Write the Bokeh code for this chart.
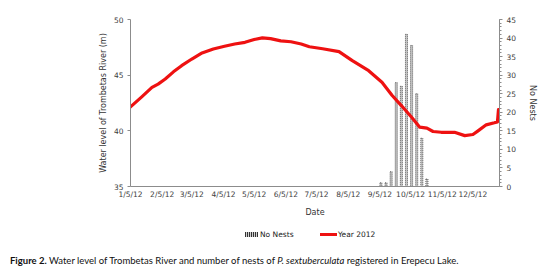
import pandas as pd
from bokeh.plotting import figure
from bokeh.layouts import column
from bokeh.models import (Range1d, LinearAxis, FixedTicker, SingleIntervalTicker, Div)
from bokeh.embed import file_html
from bokeh.resources import INLINE

# ---- data ----
level_dates = ["2012-01-05", "2012-01-16", "2012-01-26", "2012-02-01", "2012-02-08",
               "2012-02-16", "2012-02-24", "2012-03-05", "2012-03-15", "2012-03-26",
               "2012-04-06", "2012-04-16", "2012-04-26", "2012-05-05", "2012-05-13",
               "2012-05-21", "2012-05-31", "2012-06-10", "2012-06-20", "2012-06-28",
               "2012-07-11", "2012-07-27", "2012-08-09", "2012-08-25", "2012-09-07",
               "2012-09-17", "2012-09-26", "2012-10-06", "2012-10-14", "2012-10-21",
               "2012-10-27", "2012-11-04", "2012-11-17", "2012-11-27", "2012-12-05",
               "2012-12-10", "2012-12-18", "2012-12-26", "2012-12-29", "2012-12-30",
               "2012-12-31"]
levels = [42.15, 43.05, 43.9, 44.2, 44.65,
          45.3, 45.85, 46.45, 47.0, 47.35,
          47.6, 47.8, 47.95, 48.2, 48.35,
          48.28, 48.08, 48.0, 47.8, 47.55,
          47.37, 47.12, 46.3, 45.4, 44.37,
          43.17, 42.27, 41.22, 40.33, 40.24,
          39.94, 39.87, 39.87, 39.57, 39.67,
          40.0, 40.54, 40.72, 40.8, 41.9,
          40.95]

nest_dates = ["2012-09-06", "2012-09-11", "2012-09-16", "2012-09-21", "2012-09-26",
              "2012-10-01", "2012-10-06", "2012-10-11", "2012-10-16", "2012-10-21"]
nests = [1, 1, 4, 28, 27, 41, 38, 25, 13, 2]

tick_labels = ["1/5/12", "2/5/12", "3/5/12", "4/5/12", "5/5/12", "6/5/12",
               "7/5/12", "8/5/12", "9/5/12", "10/5/12", "11/5/12", "12/5/12"]

series_names = ["No Nests", "Year 2012"]

caption_parts = ["Figure 2.",
                 "Water level of Trombetas River and number of nests of",
                 "P. sextuberculata",
                 "registered in Erepecu Lake."]

base = pd.Timestamp("2012-01-01")
level_x = [(pd.Timestamp(d) - base).days for d in level_dates]
nest_x = [(pd.Timestamp(d) - base).days for d in nest_dates]
tick_x = [(pd.to_datetime(t, format="%m/%d/%y") - base).days for t in tick_labels]

FONT = "DejaVu Sans"
TXT = "#404040"
AXC = "#8c8c8c"
RED = "#ee1111"

p = figure(width=540, height=225, output_backend="svg", toolbar_location=None,
           x_range=Range1d(level_x[0], level_x[-1]), y_range=Range1d(35, 50),
           min_border_left=130, min_border_right=37, min_border_top=19,
           min_border_bottom=39, x_axis_location=None, y_axis_location=None)
p.outline_line_color = None
p.xgrid.visible = False
p.ygrid.visible = False
p.extra_y_ranges = {"nests": Range1d(0, 45)}

# axes
xaxis = LinearAxis(ticker=FixedTicker(ticks=tick_x),
                   major_label_overrides={tx: lab for tx, lab in zip(tick_x, tick_labels)},
                   axis_label="Date")
yaxis = LinearAxis(ticker=SingleIntervalTicker(interval=5, num_minor_ticks=0),
                   axis_label="Water level of Trombetas River (m)")
raxis = LinearAxis(y_range_name="nests",
                   ticker=SingleIntervalTicker(interval=5, num_minor_ticks=5),
                   axis_label="No Nests")
for ax in (xaxis, yaxis, raxis):
    ax.axis_line_color = AXC
    ax.major_tick_line_color = AXC
    ax.minor_tick_line_color = AXC
    ax.major_label_text_font = FONT
    ax.major_label_text_font_size = "7.5px"
    ax.major_label_text_color = TXT
    ax.axis_label_text_font = FONT
    ax.axis_label_text_font_size = "8px"
    ax.axis_label_text_font_style = "normal"
    ax.axis_label_text_color = "#333333"
xaxis.major_tick_out = 0
xaxis.major_tick_in = 0
xaxis.minor_tick_out = 0
xaxis.major_label_standoff = 3
xaxis.axis_label_standoff = 6
yaxis.major_tick_out = 3
yaxis.major_tick_in = 0
yaxis.minor_tick_out = 0
yaxis.major_label_standoff = 4
yaxis.axis_label_standoff = 3
raxis.major_tick_out = 3
raxis.major_tick_in = 0
raxis.minor_tick_out = 2
raxis.minor_tick_in = 0
raxis.major_label_standoff = 4
raxis.axis_label_standoff = 9
raxis.major_label_orientation = "horizontal"
p.add_layout(xaxis, "below")
p.add_layout(yaxis, "left")
p.add_layout(raxis, "right")

# glyphs
bars = p.vbar(x=nest_x, top=nests, bottom=0, width=2.0, y_range_name="nests",
              fill_color="#c4c4c4", line_color="#3a3a3a", line_width=0.8,
              line_dash="1 1")
line = p.line(x=level_x, y=levels, line_color=RED, line_width=3.2,
              line_join="round", line_cap="round")

# legend + caption below the chart (HTML)
pattern = "repeating-linear-gradient(90deg,#333 0px,#333 1px,#d0d0d0 1px,#d0d0d0 2px)"
legend_html = (
    '<div style="position:absolute;left:245px;top:5px;font-family:\'DejaVu Sans\';'
    'font-size:7.5px;color:#222;line-height:10px;white-space:nowrap;">'
    '<span style="display:inline-block;width:13px;height:5px;vertical-align:middle;'
    'background:{pat};margin-right:2px;"></span>{n0}</div>'
    '<div style="position:absolute;left:320px;top:5px;font-family:\'DejaVu Sans\';'
    'font-size:7.5px;color:#222;line-height:10px;white-space:nowrap;">'
    '<span style="display:inline-block;width:17px;height:3px;vertical-align:middle;'
    'background:{red};margin-right:1px;"></span>{n1}</div>'
).format(pat=pattern, n0=series_names[0], red=RED, n1=series_names[1])
cap_html = (
    '<div style="position:absolute;left:10px;top:30px;font-family:Lato;font-size:9.5px;'
    'color:#111;line-height:12px;white-space:nowrap;">'
    '<b>{}</b> {} <i>{}</i> {}</div>'
).format(*caption_parts)
below = Div(text='<div style="position:relative;width:540px;height:53px;">'
                 + legend_html + cap_html + '</div>',
            width=540, height=53, margin=0)

layout = column(p, below, spacing=0)
open("out.html", "w").write(file_html(layout, INLINE))
